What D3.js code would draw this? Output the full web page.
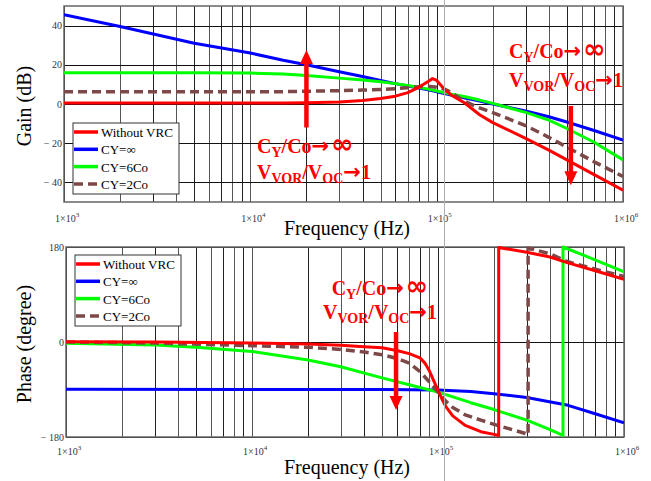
<!DOCTYPE html>
<html>
<head>
<meta charset="utf-8">
<script src="https://cdn.jsdelivr.net/npm/d3@7"></script>
<style>
  body { margin: 0; background: #fff; }
  text { font-family: "Liberation Serif", "Times New Roman", serif; }
</style>
</head>
<body>
<div id="chart"></div>
<script>
// frequency points (Hz) for the gain curves
const gainFreq = [1e3, 2e3, 5e3, 1e4, 1.5e4, 2e4, 3e4, 4e4, 5e4, 6e4, 7e4, 8e4, 9e4, 9.5e4,
  1e5, 1.1e5, 1.2e5, 1.4e5, 1.7e5, 2e5, 3e5, 4e5, 5e5, 7e5, 1e6]

// gain in dB
const gainNoVrc = [0.5, 0.5, 0.5, 0.5, 0.5, 0.6, 1.0, 1.8, 2.8, 4.0, 5.8, 8.5, 11.5, 13,
  12, 7.5, 4.5, 0.8, -5.5, -9.5, -17.5, -23.5, -28.5, -36, -44]
const gainInf = [45.5, 39.5, 31, 26, 22.3, 20, 16.5, 14, 12, 10.4, 9.2, 8.2, 7.2, 6.7,
  6.2, 5.4, 4.6, 3.2, 1.5, 0, -3.5, -6.5, -9.2, -13.5, -18.4]
const gain6Co = [16, 16, 16, 15.8, 15.3, 14.6, 13.2, 12.2, 11.4, 10.4, 9.4, 8.5, 7.6, 7.1,
  6.6, 5.8, 5.0, 3.8, 2.0, 0.3, -4.3, -8.2, -12.5, -19.5, -28.5]
const gain2Co = [6.3, 6.3, 6.3, 6.3, 6.3, 6.5, 6.8, 7.1, 7.4, 7.8, 8.3, 8.8, 9, 8.8,
  8.5, 7.6, 5.8, 1.5, -2, -4.4, -11, -17, -22, -29.5, -37]

// phase in degrees (as plotted, wrapped at -180 / +180)
const phaseNoVrcFreq = [1e3, 3e3, 1e4, 2e4, 3e4, 4e4, 5e4, 6e4, 7e4, 8e4, 8.5e4, 9e4, 9.5e4,
  1e5, 1.05e5, 1.1e5, 1.2e5, 1.4e5, 1.7e5, 2e5, 2.12e5, 2.12e5, 3e5, 4e5, 5e5, 7e5, 1e6]
const phaseNoVrc = [0.5, 0, -2, -4, -6, -9, -11, -16, -22, -30, -40, -55, -74,
  -91, -108, -122, -140, -158, -170, -175, -177, 179, 170, 161, 150, 135, 119]
const phaseInfFreq = [1e3, 1e4, 5e4, 1e5, 1.5e5, 2e5, 3e5, 5e5, 7e5, 1e6]
const phaseInf = [-89.5, -90, -90, -91, -94, -98, -105, -120, -136, -153]
const phase6CoFreq = [1e3, 3e3, 5e3, 1e4, 2e4, 3e4, 5e4, 7e4, 1e5, 1.5e5, 2e5, 3e5, 4e5,
  4.7e5, 4.7e5, 6e5, 8e5, 1e6]
const phase6Co = [-2.5, -5.5, -10, -18, -34, -47, -68, -81, -95, -115, -128, -148, -166,
  -177, 180, 165, 147, 133]
const phase2CoFreq = [1e3, 3e3, 1e4, 2e4, 3e4, 4e4, 5e4, 6e4, 7e4, 8e4, 9e4, 1e5, 1.1e5,
  1.2e5, 1.4e5, 1.7e5, 2e5, 2.5e5, 3e5, 3.05e5, 3.05e5, 4e5, 5e5, 7e5, 1e6]
const phase2Co = [0, -2, -7, -10, -14, -19, -24, -31, -40, -56, -76, -95, -112,
  -124, -138, -148, -156, -166, -174, -176, 178, 167, 152, 138, 124]

const seriesNames = ["Without VRC", "CY=\u221e", "CY=6Co", "CY=2Co"]
const gainTicks = [-40, -20, 0, 20, 40]
const phaseTicks = [-180, 0, 180]
const decadeTicks = [1e3, 1e4, 1e5, 1e6]

const colors = ["#ff0000", "#0000ff", "#00ff00", "#7d4848"]
const dashes = [null, null, null, "9,5"]

const serif = "'Liberation Serif', 'Times New Roman', serif"
const width = 651
const height = 481
const gainBox = { left: 64, right: 623, top: 6, bottom: 202 }
const phaseBox = { left: 66, right: 624, top: 247, bottom: 437 }

const svg = d3.select("#chart").append("svg")
  .attr("width", width)
  .attr("height", height)
  .attr("font-family", serif)

function makePanel(box, yDomain, yTicks, yTitle, xLabelY, xTitleY, series, legendTop) {
  const x = d3.scaleLog().domain([1e3, 1e6]).range([box.left, box.right])
  const y = d3.scaleLinear().domain(yDomain).range([box.bottom, box.top])
  const g = svg.append("g")

  // vertical grid 1..9 per decade
  g.append("g").selectAll("line")
    .data(x.ticks())
    .join("line")
    .attr("x1", d => Math.round(x(d)) + 0.5).attr("x2", d => Math.round(x(d)) + 0.5)
    .attr("y1", box.top).attr("y2", box.bottom)
    .attr("stroke", (d, i) => i % 2 ? "#555" : "#222")
    .attr("stroke-width", 1)

  // horizontal grid
  g.append("g").selectAll("line")
    .data(yTicks)
    .join("line")
    .attr("x1", box.left).attr("x2", box.right)
    .attr("y1", d => Math.round(y(d)) + 0.5).attr("y2", d => Math.round(y(d)) + 0.5)
    .attr("stroke", "#111")

  // frame
  g.append("rect")
    .attr("x", box.left).attr("y", box.top)
    .attr("width", box.right - box.left).attr("height", box.bottom - box.top)
    .attr("fill", "none").attr("stroke", "#666").attr("stroke-width", 1.5)

  // y tick labels
  g.append("g").selectAll("text")
    .data(yTicks)
    .join("text")
    .attr("x", box.left - 2)
    .attr("y", d => y(d) + 3.5)
    .attr("text-anchor", "end")
    .attr("font-size", 10)
    .attr("fill", "#333")
    .text(d => d < 0 ? "\u2212 " + Math.abs(d) : d)

  // x tick labels 1x10^n
  const xl = g.append("g").selectAll("text")
    .data(decadeTicks)
    .join("text")
    .attr("x", d => x(d) - 9)
    .attr("y", xLabelY)
    .attr("font-size", 10)
    .attr("fill", "#333")
  xl.append("tspan").text("1\u00d710")
  xl.append("tspan").attr("dy", -5).attr("font-size", 7).text(d => Math.round(Math.log10(d)))

  // axis titles
  g.append("text")
    .attr("transform", `translate(31,${(box.top + box.bottom) / 2 + 2}) rotate(-90)`)
    .attr("text-anchor", "middle")
    .attr("font-size", 20)
    .text(yTitle)
  g.append("text")
    .attr("x", 347).attr("y", xTitleY)
    .attr("text-anchor", "middle")
    .attr("font-size", 20)
    .text("Frequency (Hz)")

  // curves
  const line = d3.line().x(d => x(d[0])).y(d => y(d[1]))
  const clipId = "clip" + box.top
  svg.append("clipPath").attr("id", clipId).append("rect")
    .attr("x", box.left).attr("y", box.top - 2)
    .attr("width", box.right - box.left).attr("height", box.bottom - box.top + 4)
  g.append("g").attr("clip-path", `url(#${clipId})`)
    .selectAll("path")
    .data([series[1], series[2], series[3], series[0]])
    .join("path")
    .attr("d", s => line(d3.zip(s.freq, s.vals)))
    .attr("fill", "none")
    .attr("stroke", s => s.color)
    .attr("stroke-dasharray", s => s.dash)
    .attr("stroke-width", s => s.dash ? 3.5 : 3)
    .attr("stroke-linejoin", "round")

  // legend
  const lg = g.append("g").attr("transform", `translate(${box.left + 9},${legendTop})`)
  lg.append("rect").attr("width", 106).attr("height", 71)
    .attr("fill", "#fff").attr("stroke", "#333").attr("stroke-width", 1)
  const row = lg.selectAll(".row").data(series).join("g")
    .attr("transform", (d, i) => `translate(0,${9 + i * 17.3})`)
  row.append("line").attr("x1", 1).attr("x2", 25)
    .attr("stroke", d => d.color).attr("stroke-width", 3.5)
    .attr("stroke-dasharray", d => d.dash)
  row.append("text").attr("x", 28).attr("y", 5).attr("font-size", 13).text(d => d.name)

  return { x, y, g }
}

const gainSeries = [gainNoVrc, gainInf, gain6Co, gain2Co].map((v, i) =>
  ({ name: seriesNames[i], color: colors[i], dash: dashes[i], freq: gainFreq, vals: v }))
const phaseFreqs = [phaseNoVrcFreq, phaseInfFreq, phase6CoFreq, phase2CoFreq]
const phaseSeries = [phaseNoVrc, phaseInf, phase6Co, phase2Co].map((v, i) =>
  ({ name: seriesNames[i], color: colors[i], dash: dashes[i], freq: phaseFreqs[i], vals: v }))

const gainPanel = makePanel(gainBox, [-50, 50], gainTicks, "Gain (dB)", 222, 235, gainSeries, 123)
const phasePanel = makePanel(phaseBox, [-180, 180], phaseTicks, "Phase (degree)", 455, 474, phaseSeries, 255)

// red annotations: arrow + text
function arrow(panel, f, from, to) {
  const xs = panel.x(f), y0 = panel.y(from), y1 = panel.y(to)
  const dir = y1 < y0 ? 1 : -1
  panel.g.append("line")
    .attr("x1", xs).attr("x2", xs).attr("y1", y0).attr("y2", y1 + dir * 12)
    .attr("stroke", "#ff0000").attr("stroke-width", 4.5)
  panel.g.append("path")
    .attr("d", `M${xs - 6.5},${y1 + dir * 14} L${xs + 6.5},${y1 + dir * 14} L${xs},${y1} Z`)
    .attr("fill", "#ff0000")
}

function note(x, y1, y2, anchor) {
  // kind: 0 normal, 1 subscript, 2 arrow, 3 infinity
  const parts = [
    [["C", 0], ["Y", 1], ["/Co", 0], ["\u2192", 2], ["\u221e", 3]],
    [["V", 0], ["VOR", 1], ["/V", 0], ["OC", 1], ["\u2192", 2], ["1", 0]]
  ]
  parts.forEach((p, li) => {
    const t = svg.append("text")
      .attr("x", x).attr("y", li ? y2 : y1)
      .attr("text-anchor", anchor)
      .attr("font-size", 20).attr("font-weight", "bold").attr("fill", "#ff0000")
    let prevSub = false
    p.forEach(([s, kind]) => {
      const ts = t.append("tspan").text(s)
      if (kind === 1) { ts.attr("font-size", 14); if (!prevSub) ts.attr("dy", 4) }
      else if (prevSub) ts.attr("dy", -4)
      if (kind === 2) ts.attr("font-family", "'DejaVu Sans', sans-serif").attr("font-size", 21)
      if (kind === 3) ts.attr("font-family", "'DejaVu Sans', sans-serif").attr("font-size", 27).attr("dx", 2)
      prevSub = kind === 1
    })
  })
}

arrow(gainPanel, 2e4, -12, 27.5)
arrow(gainPanel, 5.25e5, -1, -41.5)
arrow(phasePanel, 5.95e4, 19, -129)
note(257, 153, 179, "start")
note(509, 58, 87, "start")
note(380, 295, 319, "middle")

// thin light cursor line running through both panels
const cursorFreq = 1.1e5
svg.append("line")
  .attr("x1", Math.round(gainPanel.x(cursorFreq)) + 0.5).attr("x2", Math.round(gainPanel.x(cursorFreq)) + 0.5)
  .attr("y1", 0).attr("y2", height)
  .attr("stroke", "#b0b0b0").attr("stroke-width", 1)
</script>
</body>
</html>
